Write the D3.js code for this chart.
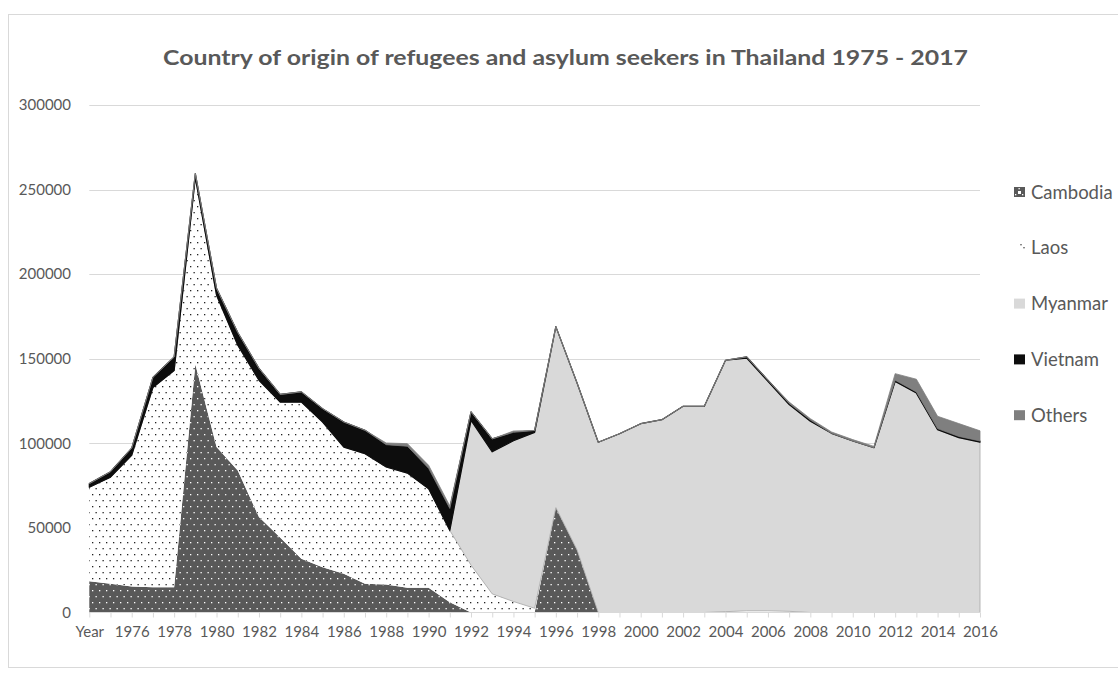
<!DOCTYPE html>
<html>
<head>
<meta charset="utf-8">
<script src="https://cdn.jsdelivr.net/npm/d3@7"></script>
<style>
  body { margin: 0; background: #fff; }
  svg { display: block; font-family: Lato, "Open Sans", sans-serif; }
</style>
</head>
<body>
<svg id="chart" width="1118" height="680"></svg>
<script>
// categories as they sit on the axis (the header cell "Year" ended up as the first one)
var categories = ["Year","1975","1976","1977","1978","1979","1980","1981","1982","1983","1984",
  "1985","1986","1987","1988","1989","1990","1991","1992","1993","1994","1995","1996","1997",
  "1998","1999","2000","2001","2002","2003","2004","2005","2006","2007","2008","2009","2010",
  "2011","2012","2013","2014","2015","2016"];

var cambodia = [18500,17000,15400,15000,15000,146700,97800,84000,56400,44400,31800,26800,22900,
  17000,16600,14600,14600,6100,0,0,0,0,62000,37000,0,0,0,0,0,0,0,0,0,0,0,0,0,0,0,0,0,0,0];

var laos = [55500,63000,77500,118000,128000,110300,89800,74000,80900,80000,92600,85800,74900,
  76900,69400,67800,58600,42400,28000,11000,6500,2500,0,0,0,0,0,0,0,0,500,1000,1000,700,
  0,0,0,0,0,0,0,0,0];

var myanmar = [0,0,0,0,0,0,0,0,0,0,0,0,0,0,0,0,0,0,85600,84000,95000,104000,107000,98700,
  100600,105700,111600,114000,121900,121900,148600,149400,135600,122200,113100,105900,101400,
  97400,136600,129700,108000,103400,100700];

var vietnam = [2200,3200,4300,6000,8000,2500,4000,7500,7000,4500,6000,7900,14800,13800,13200,
  15900,12000,13000,5000,7600,5000,1100,0,0,0,0,0,0,0,0,0,700,700,700,700,0,0,0,700,700,700,700,700];

var others = [0,0,0,0,0,0,0,0,0,0,0,0,0,0,1000,1500,1800,1500,0,0,800,0,0,0,0,0,0,0,0,0,0,0,0,
  800,800,800,800,800,3900,7500,7300,7600,6000];

var seriesNames = ["Cambodia","Laos","Myanmar","Vietnam","Others"];
var yTicks = [0,50000,100000,150000,200000,250000,300000];

var title = "Country of origin of refugees and asylum seekers in Thailand 1975 - 2017";

var svg = d3.select("#chart");
var textColor = "#595959";

var table = categories.map(function(c, i) {
  return {cat: c, Cambodia: cambodia[i], Laos: laos[i], Myanmar: myanmar[i], Vietnam: vietnam[i], Others: others[i]};
});

var x = d3.scalePoint().domain(categories).range([89.3, 980]).padding(0);
var y = d3.scaleLinear().domain([0, 300000]).range([612.5, 105]);

// fill patterns
var defs = svg.append("defs");
var pLaos = defs.append("pattern").attr("id", "dotsLaos")
  .attr("patternUnits", "userSpaceOnUse").attr("width", 7).attr("height", 12);
pLaos.append("rect").attr("width", 7).attr("height", 12).attr("fill", "#fff");
pLaos.append("rect").attr("x", 1).attr("y", 2).attr("width", 1.3).attr("height", 1.3).attr("fill", "#222");
pLaos.append("rect").attr("x", 4.5).attr("y", 8).attr("width", 1.3).attr("height", 1.3).attr("fill", "#222");

var pCam = defs.append("pattern").attr("id", "dotsCam")
  .attr("patternUnits", "userSpaceOnUse").attr("width", 7).attr("height", 12);
pCam.append("rect").attr("width", 7).attr("height", 12).attr("fill", "#595959");
pCam.append("rect").attr("x", 1).attr("y", 2).attr("width", 1.3).attr("height", 1.3).attr("fill", "#fff");
pCam.append("rect").attr("x", 4.5).attr("y", 8).attr("width", 1.3).attr("height", 1.3).attr("fill", "#fff");

var fills = {Cambodia: "url(#dotsCam)", Laos: "url(#dotsLaos)", Myanmar: "#d9d9d9", Vietnam: "#0d0d0d", Others: "#7f7f7f"};
var strokes = {Cambodia: "none", Laos: "none", Myanmar: "#a6a6a6", Vietnam: "#0d0d0d", Others: "#7f7f7f"};

// chart frame
svg.append("rect").attr("x", 8.5).attr("y", 14.5).attr("width", 1200).attr("height", 653)
  .attr("fill", "none").attr("stroke", "#d9d9d9");

// title
svg.append("text").attr("x", 565.5).attr("y", 65).attr("text-anchor", "middle")
  .attr("font-size", 21).attr("font-weight", "bold").attr("fill", textColor)
  .attr("textLength", 805).attr("lengthAdjust", "spacingAndGlyphs")
  .text(title);

// gridlines
svg.append("g").selectAll("line").data(yTicks.filter(function(d) { return d > 0; })).join("line")
  .attr("x1", 89.3).attr("x2", 980)
  .attr("y1", function(d) { return Math.round(y(d)) + 0.5; })
  .attr("y2", function(d) { return Math.round(y(d)) + 0.5; })
  .attr("stroke", "#d9d9d9").attr("stroke-width", 1.2);

// y labels
var yAxis = d3.axisLeft(y).tickValues(yTicks).tickSize(0).tickPadding(0).tickFormat(d3.format("d"));
var gy = svg.append("g").attr("transform", "translate(71,0)").call(yAxis);
gy.select(".domain").remove();
gy.selectAll("text").attr("font-size", 15).attr("fill", textColor).attr("font-family", "Lato, sans-serif");

// stacked areas
var stack = d3.stack().keys(seriesNames);
var layers = stack(table);

var area = d3.area()
  .x(function(d) { return x(d.data.cat); })
  .y0(function(d) { return y(d[0]); })
  .y1(function(d) { return y(d[1]); });

svg.append("g").selectAll("path").data(layers).join("path")
  .attr("d", area)
  .attr("fill", function(d) { return fills[d.key]; })
  .attr("stroke", function(d) { return strokes[d.key]; })
  .attr("stroke-width", function(d) { return d.key == "Vietnam" ? 1.2 : 0.8; })
  .attr("stroke-linejoin", "round");

// x axis
var xAxis = d3.axisBottom(x).tickSize(5).tickPadding(9)
  .tickFormat(function(d, i) { return i % 2 == 0 ? d : ""; });
var gx = svg.append("g").attr("transform", "translate(0,612.5)").call(xAxis);
gx.select(".domain").attr("stroke", "#d9d9d9").attr("d", "M89.3,0H980");
gx.selectAll(".tick line").attr("stroke", "#d9d9d9");
gx.selectAll("text").attr("font-size", 15).attr("fill", textColor).attr("font-family", "Lato, sans-serif");

// legend
var legend = svg.append("g").selectAll("g").data(seriesNames).join("g")
  .attr("transform", function(d, i) { return "translate(1014," + (192 + i * 55.8) + ")"; });
legend.append("rect").attr("x", 0).attr("y", -5).attr("width", 11).attr("height", 10)
  .attr("fill", function(d) { return d == "Laos" ? "#fff" : fills[d]; });
legend.filter(function(d) { return d == "Cambodia"; }).append("rect")
  .attr("x", 4).attr("y", -1).attr("width", 3).attr("height", 3).attr("fill", "#fff");
legend.filter(function(d) { return d == "Laos"; }).selectAll("circle").data([[7, -3], [10, 0]]).join("circle")
  .attr("cx", function(d) { return d[0]; }).attr("cy", function(d) { return d[1]; })
  .attr("r", 0.7).attr("fill", "#222");
legend.append("text").attr("x", 17).attr("y", 6.5)
  .attr("font-size", 18.5).attr("fill", textColor)
  .text(function(d) { return d; });
</script>
</body>
</html>
